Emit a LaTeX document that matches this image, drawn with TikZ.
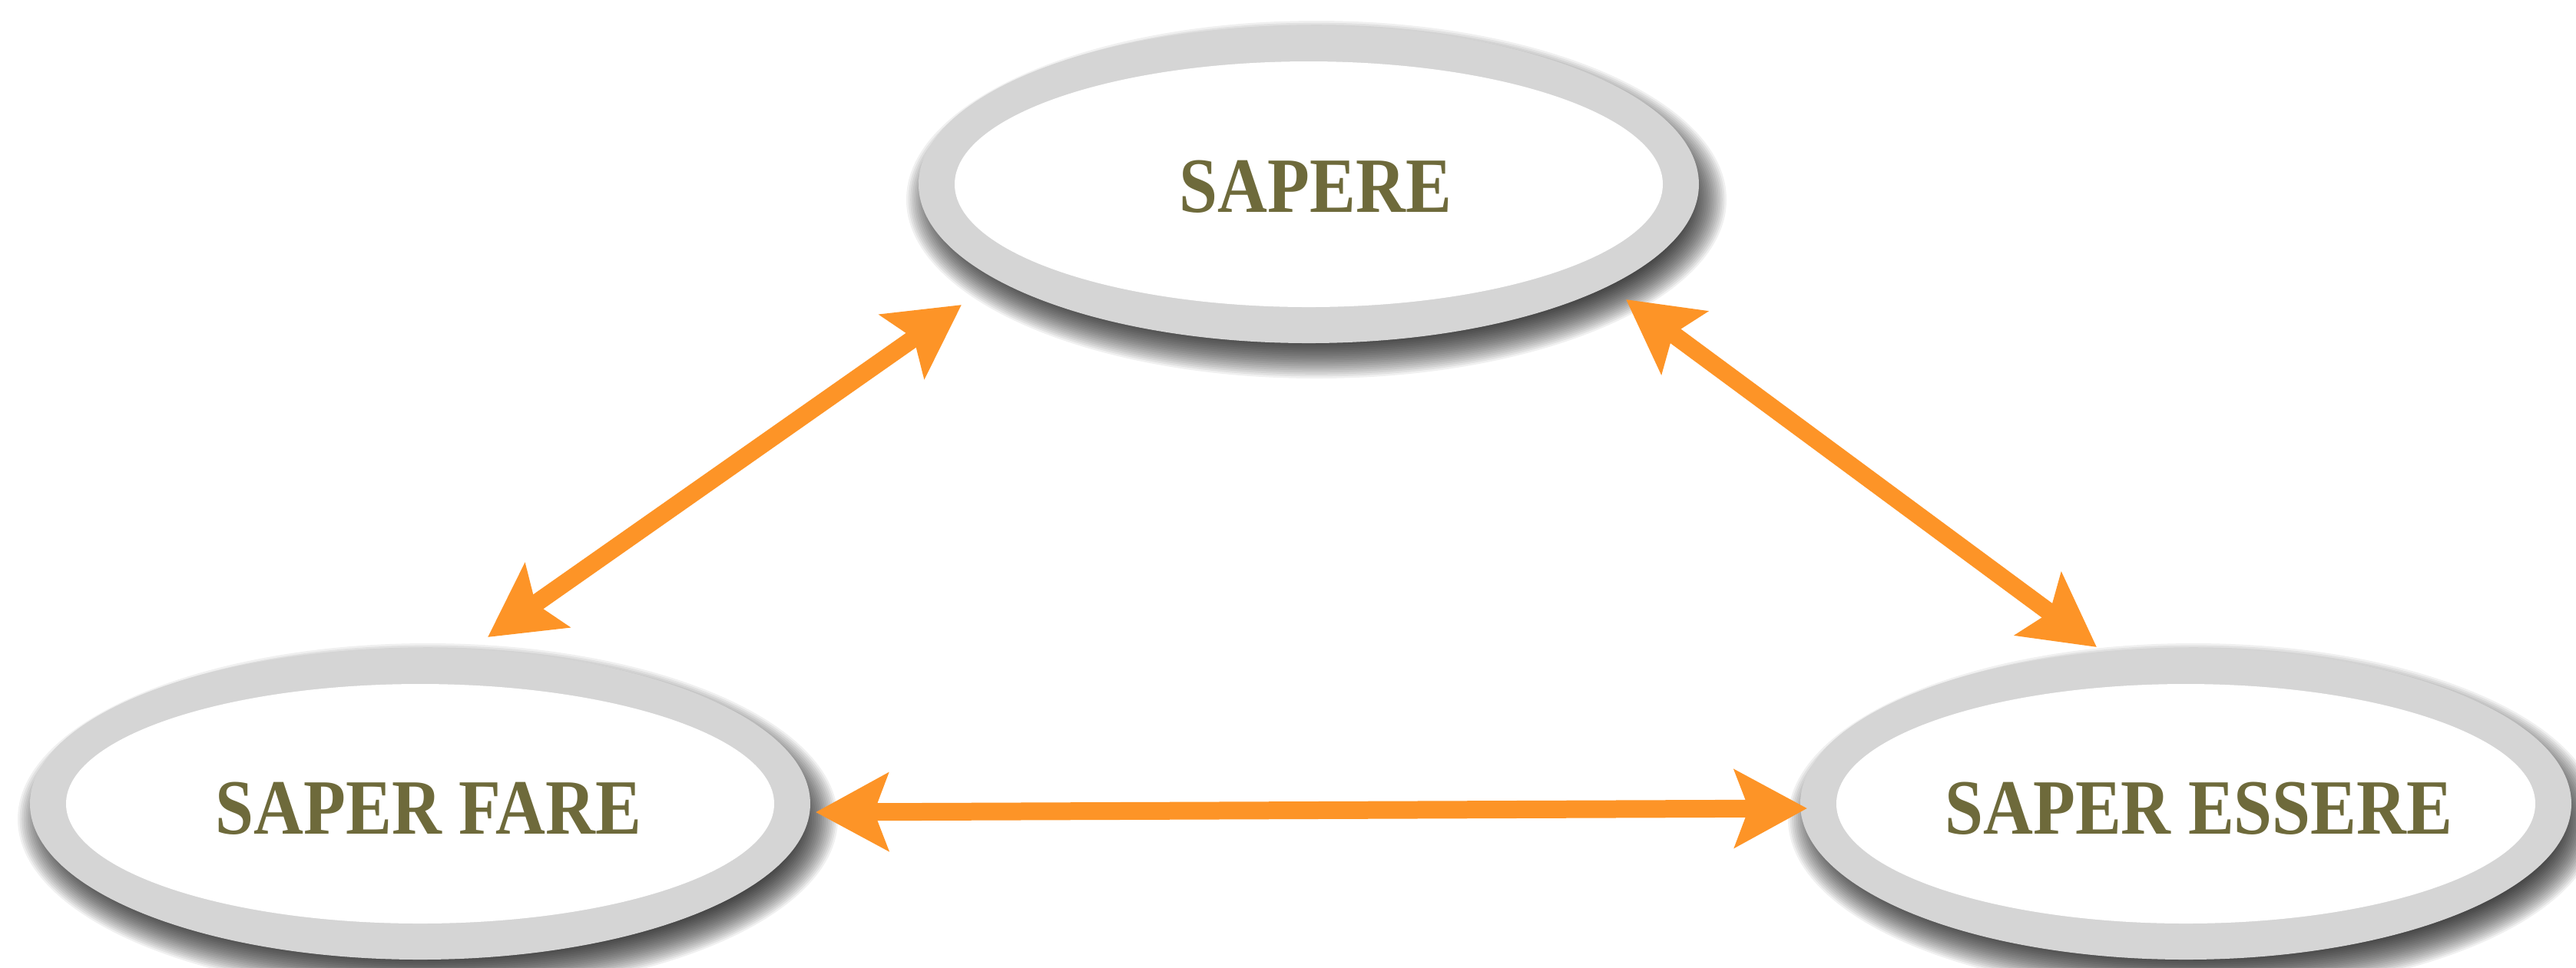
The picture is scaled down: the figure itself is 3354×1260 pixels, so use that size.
\documentclass[tikz,border=0pt]{standalone}
\usepackage{fontspec}
\setmainfont{Liberation Serif}
\newfontfamily\labelfont{Liberation Serif}[FakeStretch=0.88]
\usetikzlibrary{arrows.meta}
\definecolor{ringgray}{HTML}{D5D5D5}
\definecolor{olivetext}{HTML}{6E6A3B}
\definecolor{arroworange}{HTML}{FD9427}
\tikzset{
  labeltext/.style={inner sep=0pt, text=olivetext, font=\labelfont\bfseries\fontsize{10.2pt}{11.2pt}\selectfont},
  twoway/.style={draw=arroworange, line width=2.3pt,
    {Stealth[length=9.4pt,width=10pt,inset=1.8pt]}-{Stealth[length=9.4pt,width=10pt,inset=1.8pt]}},
}
% #1 x, #2 y, #3 rx, #4 ry  (units: 1 = 0.1pt = 1 px of the reference)
\newcommand{\mybubble}[4]{%
  \foreach \i in {0,...,20}{
    \fill[black, opacity=0.06] ({#1+10},{#2+20}) ellipse [x radius={#3+26-2.6*\i}, y radius={#4+26-2.6*\i}];
  }
  \fill[ringgray] (#1,#2) ellipse [x radius=#3, y radius=#4];
  \fill[white] (#1,#2) ellipse [x radius={#3-47}, y radius={#4-47}];
}
\begin{document}
\begin{tikzpicture}[x=0.1pt,y=-0.1pt]
\fill[white] (0,0) rectangle (3354,1260);
\useasboundingbox (0,0) rectangle (3354,1260);

\mybubble{1704}{240}{508}{207}
\mybubble{547}{1047}{508}{203}
\mybubble{2846}{1047}{502}{203}

\node[labeltext] (sapere) at (1713,243) {SAPERE};
\node[labeltext] (saperfare) at (558,1053) {SAPER FARE};
\node[labeltext] (saperessere) at (2863,1053) {SAPER ESSERE};

\coordinate (sapereL) at (1252,397);
\coordinate (fareT) at (635,830);
\coordinate (sapereR) at (2117,390);
\coordinate (essereT) at (2730,843);
\coordinate (fareR) at (1062,1058);
\coordinate (essereL) at (2353,1053);

\draw[twoway] (fareT) -- (sapereL);
\draw[twoway] (sapereR) -- (essereT);
\draw[twoway] (fareR) -- (essereL);
\end{tikzpicture}
\end{document}
